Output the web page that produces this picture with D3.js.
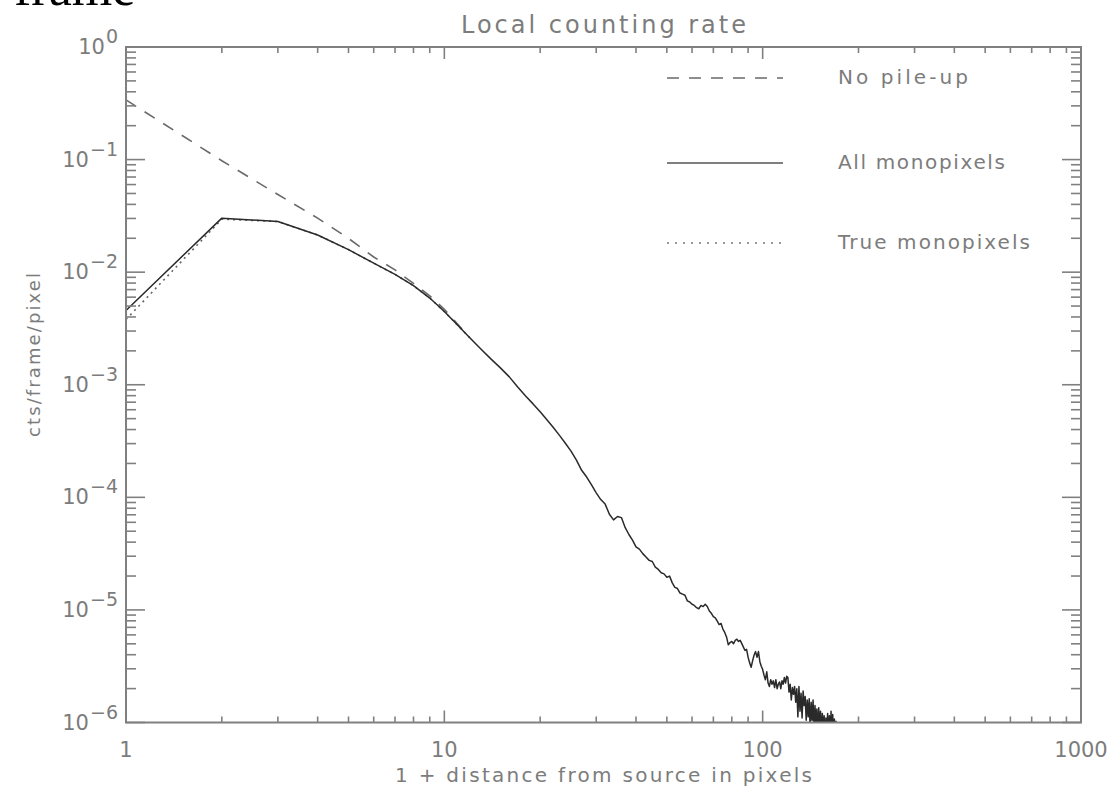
<!DOCTYPE html>
<html><head><meta charset="utf-8">
<script src="https://cdn.jsdelivr.net/npm/d3@7"></script>
<style>
body{margin:0;background:#fff}
svg text{font-family:"DejaVu Sans",sans-serif;fill:#7c7c7c}
</style>
</head><body><svg id="c" width="1115" height="793"></svg>
<script>
// ---------- data ----------
const chartTitle = "Local counting rate";
const xTitle = "1 + distance from source in pixels";
const yTitle = "cts/frame/pixel";
const xMajorTicks = [1, 10, 100, 1000];
const xMajorLabels = ["1", "10", "100", "1000"];
const yExponents = [0, -1, -2, -3, -4, -5, -6];
const legendNames = ["No pile-up", "All monopixels", "True monopixels"];

// No pile-up (dashed): x and log10(cts/frame/pixel)
const noPileX = [1, 2, 3, 4, 5, 6, 7, 8, 9, 10, 11, 12];
const noPileLog = [-0.47, -1.01, -1.31, -1.52, -1.70, -1.865, -1.98, -2.10, -2.21, -2.33, -2.46, -2.58];

// All monopixels (solid): x = 1 .. 171, log10 values
const allMonoX = d3.range(1, 172);
const allMonoLog = [
 -2.34,-1.52,-1.55,-1.67,-1.80,-1.92,-2.02,-2.12,-2.23,-2.35,
 -2.47,-2.58,-2.68,-2.77,-2.85,-2.93,-3.02,-3.10,-3.17,-3.24,
 -3.31,-3.38,-3.45,-3.52,-3.59,-3.67,-3.76,-3.82,-3.89,-3.96,
 -4.02,-4.06,-4.15,-4.20,-4.17,-4.18,-4.27,-4.33,-4.38,-4.44,
 -4.46,-4.50,-4.53,-4.56,-4.57,-4.62,-4.64,-4.67,-4.68,-4.71,
 -4.70,-4.76,-4.80,-4.81,-4.85,-4.86,-4.87,-4.92,-4.93,-4.95,
 -4.96,-4.98,-4.99,-4.96,-4.97,-4.95,-4.97,-5.01,-5.03,-5.06,
 -5.07,-5.10,-5.13,-5.12,-5.17,-5.20,-5.24,-5.31,-5.29,-5.28,
 -5.30,-5.27,-5.26,-5.28,-5.27,-5.30,-5.33,-5.36,-5.35,-5.42,
 -5.47,-5.51,-5.45,-5.40,-5.37,-5.42,-5.37,-5.46,-5.50,-5.53,
 -5.58,-5.62,-5.55,-5.65,-5.68,-5.62,-5.66,-5.63,-5.69,-5.62,
 -5.70,-5.66,-5.64,-5.70,-5.63,-5.66,-5.60,-5.65,-5.59,-5.60,
 -5.73,-5.66,-5.80,-5.69,-5.75,-5.68,-5.82,-5.70,-5.95,-5.68,
 -5.90,-5.74,-5.96,-5.72,-5.85,-5.77,-5.98,-5.80,-5.95,-5.79,
 -6.05,-5.82,-5.98,-5.80,-6.10,-5.85,-6.02,-5.88,-6.10,-5.87,
 -6.05,-5.90,-6.15,-5.92,-6.08,-5.94,-6.20,-5.96,-6.10,-5.92,
 -6.25,-5.94,-6.15,-5.90,-6.30,-5.93,-6.20,-5.97,-6.35,-5.99,
 -6.40
];

// True monopixels (dotted)
const trueMonoX = [1, 2, 3, 4, 5, 6, 7, 8, 9, 10, 11, 12];
const trueMonoLog = [-2.42, -1.53, -1.55, -1.67, -1.80, -1.92, -2.02, -2.12, -2.23, -2.35, -2.47, -2.58];

// ---------- layout ----------
const L = 126, R = 1081, T = 47, B = 722.5;
const axisColor = "#808080";
const svg = d3.select("#c");

const x = d3.scaleLog().domain([1, 1000]).range([L, R]);
const y = d3.scaleLog().domain([1e-6, 1]).range([B, T]);

const toPts = (xs, logs) => xs.map((v, i) => [v, Math.pow(10, logs[i])]);
const line = d3.line().x(d => x(d[0])).y(d => y(d[1]));

// cropped serif word at very top-left (cut off in the reference too)
svg.append("text").attr("x", 14).attr("y", 5)
  .style("font-family", "'Liberation Serif','Times New Roman',serif")
  .style("font-size", "52px").style("fill", "#000").text("frame");

// clip
svg.append("clipPath").attr("id", "clip").append("rect")
  .attr("x", L).attr("y", T).attr("width", R - L).attr("height", B - T);

const g = svg.append("g").attr("clip-path", "url(#clip)");

g.append("path").datum(toPts(noPileX, noPileLog)).attr("d", line)
  .attr("fill", "none").attr("stroke", "#6a6a6a").attr("stroke-width", 1.6)
  .attr("stroke-dasharray", "12,10");
g.append("path").datum(toPts(trueMonoX, trueMonoLog)).attr("d", line)
  .attr("fill", "none").attr("stroke", "#666").attr("stroke-width", 1.6)
  .attr("stroke-dasharray", "2,4");
g.append("path").datum(toPts(allMonoX, allMonoLog)).attr("d", line)
  .attr("fill", "none").attr("stroke", "#2a2a2a").attr("stroke-width", 1.5)
  .attr("stroke-linejoin", "round");

// frame
svg.append("rect").attr("x", L).attr("y", T).attr("width", R - L).attr("height", B - T)
  .attr("fill", "none").attr("stroke", axisColor).attr("stroke-width", 2);

const ticks = svg.append("g").attr("stroke", axisColor).attr("stroke-width", 1.6);
// x ticks
const xMinor = [];
xMajorTicks.slice(0, -1).forEach(d => { for (let m = 2; m <= 9; m++) xMinor.push(d * m); });
xMajorTicks.forEach(v => {
  ticks.append("line").attr("x1", x(v)).attr("x2", x(v)).attr("y1", B).attr("y2", B - 12);
  ticks.append("line").attr("x1", x(v)).attr("x2", x(v)).attr("y1", T).attr("y2", T + 12);
});
xMinor.forEach(v => {
  ticks.append("line").attr("x1", x(v)).attr("x2", x(v)).attr("y1", B).attr("y2", B - 6);
  ticks.append("line").attr("x1", x(v)).attr("x2", x(v)).attr("y1", T).attr("y2", T + 6);
});
// y ticks
const yMajor = yExponents.map(e => Math.pow(10, e));
const yMinor = [];
yExponents.slice(1).forEach(e => { for (let m = 2; m <= 9; m++) yMinor.push(m * Math.pow(10, e)); });
yMajor.forEach(v => {
  ticks.append("line").attr("x1", L).attr("x2", L + 19).attr("y1", y(v)).attr("y2", y(v));
  ticks.append("line").attr("x1", R).attr("x2", R - 19).attr("y1", y(v)).attr("y2", y(v));
});
yMinor.forEach(v => {
  ticks.append("line").attr("x1", L).attr("x2", L + 10).attr("y1", y(v)).attr("y2", y(v));
  ticks.append("line").attr("x1", R).attr("x2", R - 10).attr("y1", y(v)).attr("y2", y(v));
});

// x tick labels
xMajorTicks.forEach((v, i) => {
  svg.append("text").attr("x", x(v)).attr("y", 757).attr("text-anchor", "middle")
    .style("font-size", "21px").text(xMajorLabels[i]);
});
// y tick labels
yExponents.forEach(e => {
  const t = svg.append("text").attr("x", 118).attr("y", y(Math.pow(10, e)) + 7)
    .attr("text-anchor", "end").style("font-size", "21px");
  t.append("tspan").text("10");
  t.append("tspan").attr("dy", -11).attr("dx", 1).style("font-size", "19px")
    .text(e === 0 ? "0" : "\u2212" + Math.abs(e));
});

// titles
svg.append("text").attr("x", (L + R) / 2).attr("y", 33).attr("text-anchor", "middle")
  .attr("textLength", 285).attr("lengthAdjust", "spacing")
  .style("font-size", "24px").text(chartTitle);
svg.append("text").attr("x", 603.5).attr("y", 782).attr("text-anchor", "middle")
  .attr("textLength", 417).attr("lengthAdjust", "spacing")
  .style("font-size", "20px").text(xTitle);
svg.append("text").attr("transform", "translate(40,355) rotate(-90)").attr("text-anchor", "middle")
  .attr("textLength", 164).attr("lengthAdjust", "spacing")
  .style("font-size", "18px").text(yTitle);

// legend
const legY = [78, 163, 243];
const legDash = ["12,10", null, "2,6"];
const legColor = ["#6a6a6a", "#555", "#777"];
const legW = [130, 167, 192];
legendNames.forEach((n, i) => {
  const ln = svg.append("line").attr("x1", 667).attr("x2", 783).attr("y1", legY[i]).attr("y2", legY[i])
    .attr("stroke", legColor[i]).attr("stroke-width", 1.6);
  if (legDash[i]) ln.attr("stroke-dasharray", legDash[i]);
  svg.append("text").attr("x", 838).attr("y", legY[i] + 6).attr("textLength", legW[i])
    .attr("lengthAdjust", "spacing").style("font-size", "20px").text(n);
});
</script>
</body></html>
